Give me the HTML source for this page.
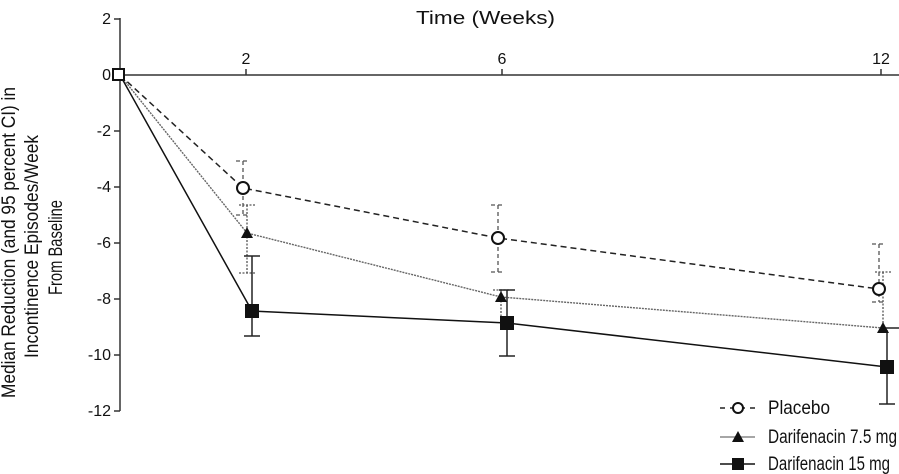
<!DOCTYPE html>
<html><head><meta charset="utf-8"><style>
body{margin:0;background:#fff}
svg{display:block}
text{font-family:"Liberation Sans",sans-serif;fill:#111}
</style></head><body>
<svg width="899" height="474" viewBox="0 0 899 474">
<g stroke="#333" stroke-width="1.5" fill="none">
<line x1="120" y1="18" x2="120" y2="411"/>
<line x1="120" y1="75" x2="899" y2="75"/>
<line x1="114" y1="19" x2="120" y2="19"/>
<line x1="114" y1="75" x2="120" y2="75"/>
<line x1="114" y1="131" x2="120" y2="131"/>
<line x1="114" y1="187" x2="120" y2="187"/>
<line x1="114" y1="243" x2="120" y2="243"/>
<line x1="114" y1="299" x2="120" y2="299"/>
<line x1="114" y1="355" x2="120" y2="355"/>
<line x1="114" y1="411" x2="120" y2="411"/>
<line x1="246" y1="69" x2="246" y2="75"/>
<line x1="502" y1="69" x2="502" y2="75"/>
<line x1="881" y1="69" x2="881" y2="75"/>
</g>
<g font-size="16" text-anchor="end">
<text x="111" y="24">2</text><text x="111" y="80">0</text>
<text x="111" y="136">-2</text><text x="111" y="192">-4</text>
<text x="111" y="248">-6</text><text x="111" y="304">-8</text>
<text x="111" y="360">-10</text><text x="111" y="416">-12</text>
</g>
<g font-size="16" text-anchor="middle">
<text x="246" y="64">2</text><text x="502" y="64">6</text><text x="881" y="64">12</text>
</g>
<text x="416" y="24" font-size="18" textLength="139" lengthAdjust="spacingAndGlyphs">Time (Weeks)</text>
<g font-size="19" transform="rotate(-90)">
<text x="-398" y="15" textLength="311" lengthAdjust="spacingAndGlyphs">Median Reduction (and 95 percent CI) in</text>
<text x="-358" y="38" textLength="223" lengthAdjust="spacingAndGlyphs">Incontinence Episodes/Week</text>
<text x="-295" y="62" textLength="95" lengthAdjust="spacingAndGlyphs">From Baseline</text>
</g>
<g stroke="#555" stroke-width="1.3" stroke-dasharray="4,3">
<line x1="243" y1="161" x2="243" y2="215"/><line x1="236" y1="161" x2="250" y2="161"/><line x1="236" y1="215" x2="250" y2="215"/>
<line x1="498" y1="205" x2="498" y2="272"/><line x1="491" y1="205" x2="505" y2="205"/><line x1="491" y1="272" x2="505" y2="272"/>
<line x1="879" y1="244" x2="879" y2="302"/><line x1="872" y1="244" x2="886" y2="244"/><line x1="872" y1="302" x2="886" y2="302"/>
</g>
<g stroke="#555" stroke-width="1.3" stroke-dasharray="2,1.5">
<line x1="247" y1="205" x2="247" y2="273"/><line x1="239" y1="205" x2="255" y2="205"/><line x1="239" y1="273" x2="255" y2="273"/>
<line x1="501" y1="290" x2="501" y2="330"/><line x1="493" y1="290" x2="509" y2="290"/>
<line x1="883" y1="272" x2="883" y2="328"/><line x1="875" y1="272" x2="891" y2="272"/>
</g>
<g stroke="#222" stroke-width="1.5">
<line x1="252" y1="256" x2="252" y2="336"/><line x1="244" y1="256" x2="260" y2="256"/><line x1="244" y1="336" x2="260" y2="336"/>
<line x1="507" y1="290" x2="507" y2="356"/><line x1="499" y1="290" x2="515" y2="290"/><line x1="499" y1="356" x2="515" y2="356"/>
<line x1="887" y1="330" x2="887" y2="404"/><line x1="879" y1="404" x2="895" y2="404"/>
<line x1="883" y1="328" x2="899" y2="328"/>
</g>
<polyline points="120,75 252,311 507,323 887,367" fill="none" stroke="#111" stroke-width="1.5"/>
<polyline points="120,75 247,233 501,297 883,328" fill="none" stroke="#666" stroke-width="1.4" stroke-dasharray="2,1"/>
<polyline points="120,75 243,188 498,238 879,289" fill="none" stroke="#222" stroke-width="1.5" stroke-dasharray="6,4"/>
<g fill="#111">
<rect x="245" y="304" width="14" height="14"/><rect x="500" y="316" width="14" height="14"/><rect x="880" y="360" width="14" height="14"/>
<polygon points="247,227 253,238 241,238"/><polygon points="501,291 507,302 495,302"/><polygon points="883,322 889,333 877,333"/>
</g>
<g fill="#fff" stroke="#111" stroke-width="2">
<circle cx="243" cy="188" r="6"/><circle cx="498" cy="238" r="6"/><circle cx="879" cy="289" r="6"/>
<rect x="113" y="69" width="11" height="11"/>
</g>
<line x1="720" y1="408" x2="755" y2="408" stroke="#222" stroke-width="1.5" stroke-dasharray="5,5"/>
<circle cx="738" cy="408" r="5" fill="#fff" stroke="#111" stroke-width="2"/>
<line x1="720" y1="437" x2="755" y2="437" stroke="#888" stroke-width="1.5"/>
<polygon points="738,431 744,442 732,442" fill="#111"/>
<line x1="720" y1="464" x2="755" y2="464" stroke="#111" stroke-width="1.5"/>
<rect x="732" y="458" width="12" height="12" fill="#111"/>
<g font-size="19">
<text x="768" y="414" textLength="62" lengthAdjust="spacingAndGlyphs">Placebo</text>
<text x="768" y="443" textLength="129" lengthAdjust="spacingAndGlyphs">Darifenacin 7.5 mg</text>
<text x="768" y="470" textLength="122" lengthAdjust="spacingAndGlyphs">Darifenacin 15 mg</text>
</g>
</svg>
</body></html>
